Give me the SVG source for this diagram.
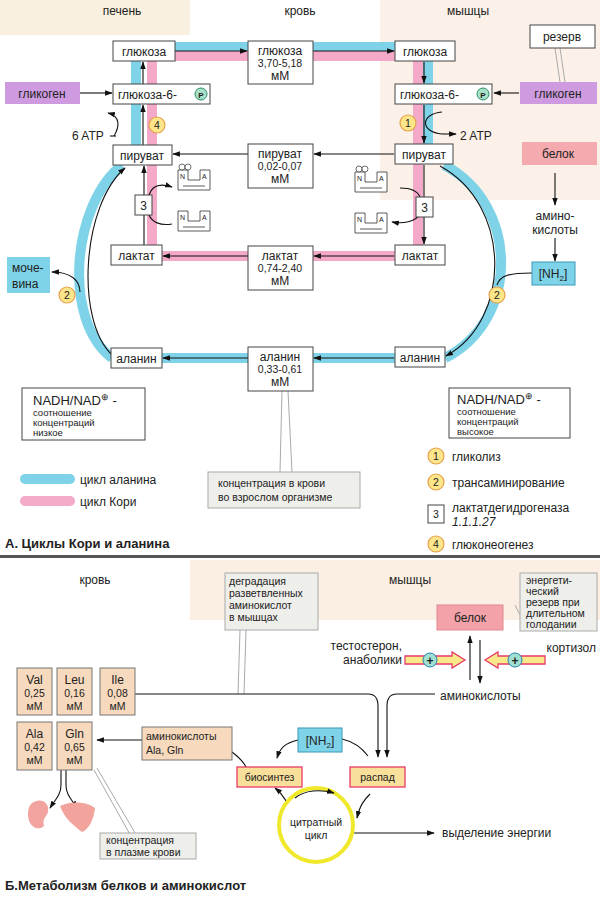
<svg xmlns="http://www.w3.org/2000/svg" width="600" height="905" viewBox="0 0 600 905">
<defs>
<marker id="ah" viewBox="0 0 10 10" refX="9" refY="5" markerWidth="7" markerHeight="7" orient="auto-start-reverse"><path d="M0,1.5 L10,5 L0,8.5 z" fill="#111"/></marker>
<g id="na"><path d="M0,0 h10 v10 h12 v-10 h10 v20 h-32 z" fill="#fff" stroke="#333" stroke-width="0.8"/><path d="M5,16 h22" stroke="#333" stroke-width="0.8"/><text x="2" y="9" font-size="7" font-family="Liberation Sans, sans-serif">N</text><text x="24" y="9" font-size="7" font-family="Liberation Sans, sans-serif">A</text></g>
</defs>
<style>
text{font-family:"Liberation Sans",Arial,sans-serif;fill:#222}
.t{font-size:12px}
.s{font-size:10.5px}
.xs{font-size:9.5px}
.box{fill:#fff;stroke:#444;stroke-width:1}
.gray{fill:#eeeeea;stroke:#aaa;stroke-width:1}
.blue{stroke:#7fd3e8;stroke-width:10;fill:none}
.pink{stroke:#f4a9c8;stroke-width:10;fill:none}
.ln{stroke:#111;stroke-width:1.1;fill:none}
.arr{stroke:#111;stroke-width:1.1;fill:none;marker-end:url(#ah)}
.num{fill:#fde58a;stroke:#e6a04c;stroke-width:1.2}
.aa{fill:#f7d9bd;stroke:#777;stroke-width:1}
.ptr{fill:none;stroke:#aaa;stroke-width:1}
</style>
<rect width="600" height="905" fill="#fff"/>
<rect x="0" y="0" width="190" height="35" fill="#faf0e0"/>
<rect x="380" y="0" width="220" height="200" fill="#fbf1e8"/>
<rect x="190" y="560" width="410" height="60" fill="#fbeee2"/>

<g id="connectors">
<path class="blue" d="M175,47 H395"/>
<path class="pink" d="M175,56 H395"/>
<path class="blue" d="M136,61 V145"/>
<path class="pink" d="M152,61 V256 H248"/>
<path class="pink" d="M418,61 V256 H313"/>
<path class="blue" d="M428,61 V145"/>
<path class="blue" d="M122,165 C72,205 62,320 112,358"/>
<path class="blue" d="M162,358 H248"/>
<path class="blue" d="M444,165 C520,205 520,320 445,358"/>
<path class="blue" d="M395,358 H313"/>
<path class="blue" d="M25,479 H70" stroke-linecap="round"/>
<path class="pink" d="M25,501 H70" stroke-linecap="round"/>
<path class="arr" d="M175,51 H247"/>
<path class="arr" d="M313,51 H394"/>
<path class="arr" d="M80,93 H112"/>
<path class="arr" d="M143,145 V105"/>
<path class="arr" d="M143,84 V62"/>
<path class="arr" d="M114,136 C120,126 120,116 108,113"/>
<path class="ln" d="M110,136 H116"/>
<path class="arr" d="M248,154 H173"/>
<path class="arr" d="M394,154 H314"/>
<path class="arr" d="M144,245 V166"/>
<path class="arr" d="M149,195 C152,186 160,183 172,187"/>
<path class="ln" d="M149,215 C152,222 160,226 172,224"/>
<path class="arr" d="M248,256 H163"/>
<path class="arr" d="M112,355 C75,320 82,205 125,168"/>
<path class="arr" d="M80,292 C80,280 70,272 52,272"/>
<path class="arr" d="M248,358 H163"/>
<path class="arr" d="M424,62 V83"/>
<path class="arr" d="M424,105 V143"/>
<path class="ln" d="M442,112 C420,114 420,132 442,134"/>
<path class="arr" d="M442,134 H456"/>
<path class="arr" d="M519,93 H494"/>
<path class="arr" d="M424,165 V244"/>
<path class="ln" d="M400,188 C412,188 418,192 420,197"/>
<path class="arr" d="M420,214 C416,222 402,224 392,222"/>
<path class="arr" d="M394,256 H314"/>
<path class="arr" d="M440,166 C512,205 512,320 446,356"/>
<path class="arr" d="M555,173 V205"/>
<path class="arr" d="M555,238 V261"/>
<path class="ln" d="M532,273 C510,273 500,275 497,285"/>
<path class="arr" d="M394,358 H314"/>
<path class="ptr" d="M560,48 L565,82 M555,48 L560,82"/>
<path class="ptr" d="M282,391 L280,472 M288,391 L292,472"/>
<path class="ptr" d="M240,630 L238,694 M246,630 L244,694"/>
<path class="ptr" d="M515,605 L520,615"/>
<path class="ptr" d="M94,770 L132,838 M97,768 L138,838"/>
<path class="arr" d="M470,680 V636"/>
<path class="arr" d="M480,640 V683"/>
<path class="ln" d="M135,694 H368 Q378,694 378,706 V757" marker-end="url(#ah)"/>
<path class="ln" d="M435,694 H397 Q387,694 387,706 V757" marker-end="url(#ah)"/>
<path class="arr" d="M142,740 H97"/>
<path class="arr" d="M298,740 C285,743 280,748 277,758"/>
<path class="ln" d="M342,739 C355,742 362,748 368,756"/>
<path class="ln" d="M232,752 C240,758 244,763 246,767"/>
<path class="arr" d="M292,815 C289,805 285,796 275,788"/>
<path class="arr" d="M370,794 C364,800 360,805 357,818"/>
<path class="arr" d="M352,833 H434"/>
<path class="arr" d="M61,770 V785 C61,795 55,800 50,808"/>
<path class="arr" d="M66,770 V785 C66,795 72,800 77,808"/>
</g>

<text class="t" x="122" y="15" text-anchor="middle">печень</text>
<text class="t" x="300" y="15" text-anchor="middle">кровь</text>
<text class="t" x="468" y="15" text-anchor="middle">мышцы</text>

<g id="l-glc"><rect class="box" x="113" y="41" width="62" height="20"/><text class="t" x="144" y="56" text-anchor="middle">глюкоза</text></g>
<g id="l-g6p"><rect class="box" x="113" y="84" width="97" height="20"/><text class="t" x="118" y="99">глюкоза-6-</text><circle cx="201" cy="94" r="6" fill="#a8e0c8" stroke="#2a8f6a"/><text x="201" y="97.5" font-size="8" text-anchor="middle" font-weight="bold">P</text></g>
<g id="l-glyc"><rect x="5" y="82" width="75" height="22" fill="#cf9be0"/><text class="t" x="42" y="98" text-anchor="middle">гликоген</text></g>
<g id="n4"><circle class="num" cx="157" cy="125" r="8"/><text class="s" x="157" y="129" text-anchor="middle">4</text></g>
<text class="t" x="72" y="140">6 ATP</text>
<g id="l-pyr"><rect class="box" x="113" y="145" width="59" height="20"/><text class="t" x="142" y="160" text-anchor="middle">пируват</text></g>
<use href="#na" x="178" y="170"/>
<circle cx="182" cy="167" r="3" fill="#fff" stroke="#333" stroke-width="0.7"/><circle cx="188" cy="167" r="3" fill="#fff" stroke="#333" stroke-width="0.7"/>
<use href="#na" x="178" y="211"/>
<g id="l-3"><rect class="box" x="135" y="195" width="17" height="20"/><text class="t" x="143.5" y="210" text-anchor="middle">3</text></g>
<g id="l-lac"><rect class="box" x="111" y="245" width="51" height="20"/><text class="t" x="136.5" y="260" text-anchor="middle">лактат</text></g>
<g id="urea"><rect x="7" y="257" width="43" height="36" fill="#7fd3e8"/><text class="t" x="12" y="272">моче-</text><text class="t" x="12" y="288">вина</text></g>
<g id="n2l"><circle class="num" cx="67" cy="295" r="8"/><text class="s" x="67" y="299" text-anchor="middle">2</text></g>
<g id="l-ala"><rect class="box" x="111" y="348" width="51" height="20"/><text class="t" x="136.5" y="363" text-anchor="middle">аланин</text></g>

<g id="b-glc"><rect class="box" x="248" y="41" width="65" height="43"/><text class="t" x="280" y="55" text-anchor="middle">глюкоза</text><text class="s" x="280" y="67" text-anchor="middle">3,70-5,18</text><text class="t" x="280" y="80" text-anchor="middle">мМ</text></g>
<g id="b-pyr"><rect class="box" x="248" y="144" width="65" height="44"/><text class="t" x="280" y="158" text-anchor="middle">пируват</text><text class="s" x="280" y="170" text-anchor="middle">0,02-0,07</text><text class="t" x="280" y="183" text-anchor="middle">мМ</text></g>
<g id="b-lac"><rect class="box" x="248" y="246" width="65" height="44"/><text class="t" x="280" y="260" text-anchor="middle">лактат</text><text class="s" x="280" y="272" text-anchor="middle">0,74-2,40</text><text class="t" x="280" y="285" text-anchor="middle">мМ</text></g>
<g id="b-ala"><rect class="box" x="248" y="347" width="65" height="44"/><text class="t" x="280" y="361" text-anchor="middle">аланин</text><text class="s" x="280" y="373" text-anchor="middle">0,33-0,61</text><text class="t" x="280" y="386" text-anchor="middle">мМ</text></g>

<g id="r-glc"><rect class="box" x="395" y="41" width="60" height="20"/><text class="t" x="425" y="56" text-anchor="middle">глюкоза</text></g>
<g id="r-g6p"><rect class="box" x="395" y="84" width="97" height="20"/><text class="t" x="400" y="99">глюкоза-6-</text><circle cx="483" cy="94" r="6" fill="#a8e0c8" stroke="#2a8f6a"/><text x="483" y="97.5" font-size="8" text-anchor="middle" font-weight="bold">P</text></g>
<g id="r-glyc"><rect x="520" y="82" width="77" height="22" fill="#cf9be0"/><text class="t" x="558" y="98" text-anchor="middle">гликоген</text></g>
<g id="reserve"><rect class="box" x="530" y="25" width="65" height="23" stroke="#aaa"/><text class="t" x="562" y="41" text-anchor="middle">резерв</text></g>
<g id="n1"><circle class="num" cx="408" cy="123" r="8"/><text class="s" x="408" y="127" text-anchor="middle">1</text></g>
<text class="t" x="460" y="140">2 ATP</text>
<g id="r-pyr"><rect class="box" x="395" y="144" width="58" height="20"/><text class="t" x="424" y="159" text-anchor="middle">пируват</text></g>
<g id="protein"><rect x="522" y="142" width="75" height="23" fill="#f5aab0"/><text class="t" x="558" y="158" text-anchor="middle">белок</text></g>
<use href="#na" x="355" y="172"/>
<circle cx="359" cy="169" r="3" fill="#fff" stroke="#333" stroke-width="0.7"/><circle cx="365" cy="169" r="3" fill="#fff" stroke="#333" stroke-width="0.7"/>
<use href="#na" x="355" y="213"/>
<g id="r-3"><rect class="box" x="416" y="197" width="17" height="20"/><text class="t" x="424.5" y="212" text-anchor="middle">3</text></g>
<text class="t" x="555" y="220" text-anchor="middle">амино-</text>
<text class="t" x="555" y="234" text-anchor="middle">кислоты</text>
<g id="r-lac"><rect class="box" x="395" y="245" width="50" height="20"/><text class="t" x="420" y="260" text-anchor="middle">лактат</text></g>
<g id="nh2a"><rect x="532" y="262" width="43" height="23" fill="#7fd3e8" stroke="#3a9ab8"/><text class="t" x="553" y="278" text-anchor="middle">[NH<tspan font-size="8" dy="3">2</tspan><tspan dy="-3">]</tspan></text></g>
<g id="n2r"><circle class="num" cx="497" cy="295" r="8"/><text class="s" x="497" y="299" text-anchor="middle">2</text></g>
<g id="r-ala"><rect class="box" x="395" y="347" width="50" height="20"/><text class="t" x="420" y="362" text-anchor="middle">аланин</text></g>

<g id="nadl"><rect class="box" x="22" y="388" width="123" height="52"/><text x="33" y="405" font-size="13">NADH/NAD<tspan font-size="9" dy="-5">⊕</tspan><tspan dy="5"> -</tspan></text><text class="xs" x="33" y="416">соотношение</text><text class="xs" x="33" y="426">концентраций</text><text class="xs" x="33" y="436">низкое</text></g>
<g id="nadr"><rect class="box" x="449" y="388" width="121" height="50"/><text x="457" y="404" font-size="13">NADH/NAD<tspan font-size="9" dy="-5">⊕</tspan><tspan dy="5"> -</tspan></text><text class="xs" x="457" y="415">соотношение</text><text class="xs" x="457" y="425">концентраций</text><text class="xs" x="457" y="435">высокое</text></g>
<text class="t" x="80" y="484">цикл аланина</text>
<text class="t" x="80" y="506">цикл  Кори</text>
<g id="conc"><rect class="gray" x="208" y="472" width="152" height="36"/><text class="s" x="218" y="487">концентрация в крови</text><text class="s" x="218" y="501">во взрослом организме</text></g>
<g id="leg1"><circle class="num" cx="436" cy="456" r="8"/><text class="s" x="436" y="460" text-anchor="middle">1</text><text class="t" x="452" y="461">гликолиз</text></g>
<g id="leg2"><circle class="num" cx="436" cy="482" r="8"/><text class="s" x="436" y="486" text-anchor="middle">2</text><text class="t" x="452" y="487">трансаминирование</text></g>
<g id="leg3"><rect class="box" x="428" y="505" width="16" height="18"/><text class="s" x="436" y="518" text-anchor="middle">3</text><text class="t" x="452" y="512">лактатдегидрогеназа</text><text class="t" x="452" y="526" font-style="italic">1.1.1.27</text></g>
<g id="leg4"><circle class="num" cx="436" cy="544" r="8"/><text class="s" x="436" y="548" text-anchor="middle">4</text><text class="t" x="452" y="549">глюконеогенез</text></g>
<text x="5" y="548" font-size="13" font-weight="bold">А. Циклы  Кори и аланина</text>
<rect x="0" y="555" width="600" height="3" fill="#555"/>

<text class="t" x="95" y="584" text-anchor="middle">кровь</text>
<text class="t" x="410" y="584" text-anchor="middle">мышцы</text>
<g id="degr"><rect class="gray" x="225" y="573" width="93" height="57"/><text class="s" x="229" y="585">деградация</text><text class="s" x="229" y="597">разветвленных</text><text class="s" x="229" y="609">аминокислот</text><text class="s" x="229" y="621">в мышцах</text></g>
<g id="energy"><rect class="gray" x="520" y="573" width="77" height="58"/><text class="s" x="526" y="584">энергети-</text><text class="s" x="526" y="595">ческий</text><text class="s" x="526" y="606">резерв при</text><text class="s" x="526" y="617">длительном</text><text class="s" x="526" y="628">голодании</text></g>
<g id="protB"><rect x="437" y="605" width="66" height="25" fill="#f3a2aa" stroke="#e08890"/><text class="t" x="470" y="622" text-anchor="middle">белок</text></g>
<text class="t" x="402" y="650" text-anchor="end">тестостерон,</text>
<text class="t" x="402" y="664" text-anchor="end">анаболики</text>
<text class="t" x="596" y="652" text-anchor="end">кортизол</text>
<g id="fatL"><path d="M405,656 H452 V652 L465,660 L452,668 V664 H405 z" fill="#f8e88a" stroke="#e83a6a" stroke-width="1.3"/><circle cx="430" cy="660" r="7" fill="#9fe0d0" stroke="#2a7fb0"/><text x="430" y="664.5" font-size="12" text-anchor="middle" font-weight="bold" fill="#2a7fb0">+</text></g>
<g id="fatR"><path d="M545,656 H498 V652 L485,660 L498,668 V664 H545 z" fill="#f8e88a" stroke="#e83a6a" stroke-width="1.3"/><circle cx="515" cy="660" r="7" fill="#9fe0d0" stroke="#2a7fb0"/><text x="515" y="664.5" font-size="12" text-anchor="middle" font-weight="bold" fill="#2a7fb0">+</text></g>
<text class="t" x="440" y="700">аминокислоты</text>
<g id="val"><rect class="aa" x="17" y="668" width="35" height="47"/><text class="t" x="34.5" y="684" text-anchor="middle">Val</text><text class="s" x="34.5" y="697" text-anchor="middle">0,25</text><text class="s" x="34.5" y="710" text-anchor="middle">мМ</text></g>
<g id="leu"><rect class="aa" x="57" y="668" width="35" height="47"/><text class="t" x="74.5" y="684" text-anchor="middle">Leu</text><text class="s" x="74.5" y="697" text-anchor="middle">0,16</text><text class="s" x="74.5" y="710" text-anchor="middle">мМ</text></g>
<g id="ile"><rect class="aa" x="100" y="668" width="35" height="47"/><text class="t" x="117.5" y="684" text-anchor="middle">Ile</text><text class="s" x="117.5" y="697" text-anchor="middle">0,08</text><text class="s" x="117.5" y="710" text-anchor="middle">мМ</text></g>
<g id="ala"><rect class="aa" x="17" y="722" width="35" height="48"/><text class="t" x="34.5" y="738" text-anchor="middle">Ala</text><text class="s" x="34.5" y="751" text-anchor="middle">0,42</text><text class="s" x="34.5" y="764" text-anchor="middle">мМ</text></g>
<g id="gln"><rect class="aa" x="57" y="722" width="35" height="48"/><text class="t" x="74.5" y="738" text-anchor="middle">Gln</text><text class="s" x="74.5" y="751" text-anchor="middle">0,65</text><text class="s" x="74.5" y="764" text-anchor="middle">мМ</text></g>
<g id="aaAG"><rect class="aa" x="142" y="727" width="90" height="33"/><text class="s" x="146" y="740">аминокислоты</text><text class="s" x="146" y="754">Ala, Gln</text></g>
<g id="nh2b"><rect x="298" y="728" width="44" height="24" fill="#7fd3e8" stroke="#3a9ab8"/><text class="t" x="320" y="745" text-anchor="middle">[NH<tspan font-size="8" dy="3">2</tspan><tspan dy="-3">]</tspan></text></g>
<g id="bios"><rect x="237" y="767" width="65" height="20" fill="#f8df9a" stroke="#e83a6a" stroke-width="1.3"/><text class="s" x="269.5" y="781" text-anchor="middle">биосинтез</text></g>
<g id="decay"><rect x="350" y="767" width="55" height="20" fill="#f8df9a" stroke="#e83a6a" stroke-width="1.3"/><text class="s" x="377.5" y="781" text-anchor="middle">распад</text></g>
<g id="tca"><circle cx="316" cy="825" r="37" fill="#fff" stroke="#f0e82a" stroke-width="4"/><path class="arr" d="M295,798 C305,790 320,789 334,793"/><text class="s" x="316" y="826" text-anchor="middle">цитратный</text><text class="s" x="316" y="839" text-anchor="middle">цикл</text></g>
<text class="t" x="442" y="837">выделение энергии</text>
<g id="kidney"><path d="M32,803 C40,797 50,802 48,812 C46,818 42,818 44,826 C38,832 28,826 28,815 C28,809 29,806 32,803 z" fill="#f3a3a0"/></g>
<g id="liver"><path d="M60,806 C72,800 88,802 95,808 C94,820 88,830 82,832 C74,826 64,818 60,806 z" fill="#f2a49c"/></g>
<g id="plasma"><rect class="gray" x="100" y="833" width="96" height="26"/><text class="s" x="106" y="844">концентрация</text><text class="s" x="106" y="856">в плазме крови</text></g>
<text x="5" y="890" font-size="13" font-weight="bold">Б.Метаболизм белков и аминокислот</text>
</svg>
